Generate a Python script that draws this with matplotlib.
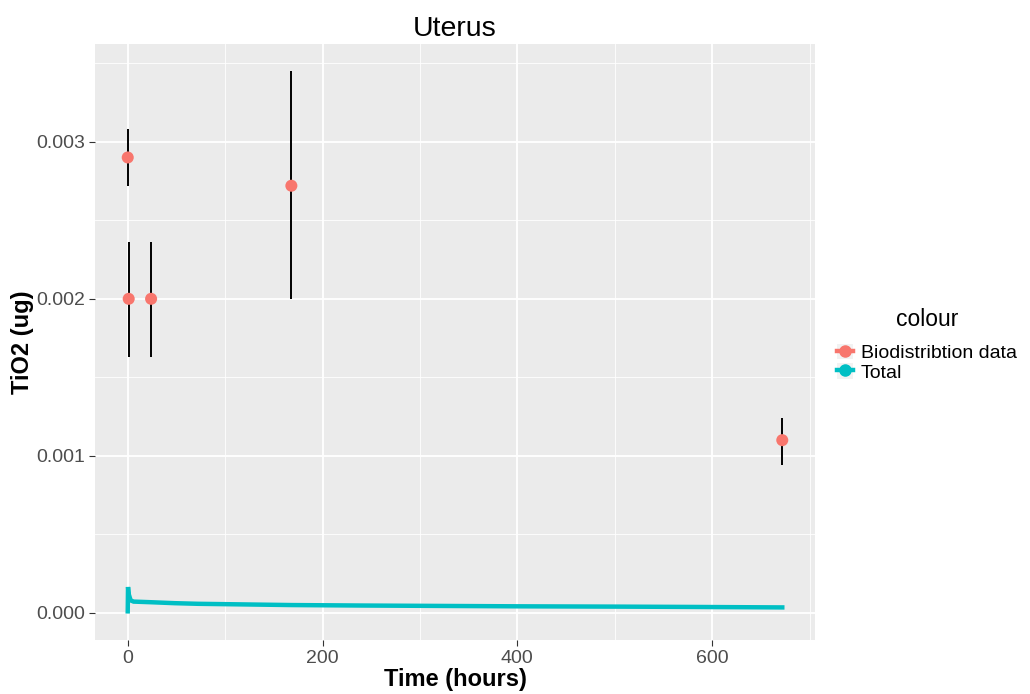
import numpy as np
import matplotlib.pyplot as plt
from matplotlib.lines import Line2D
from matplotlib.patches import Rectangle
from matplotlib.ticker import MultipleLocator

plt.rcParams['font.family'] = ['Liberation Sans', 'DejaVu Sans']

# measured biodistribution (mean with lower/upper bounds)
obs_time = [0, 1, 24, 168, 672]
obs_mean = [0.0029, 0.0020, 0.0020, 0.00272, 0.0011]
obs_lo = [0.00272, 0.00163, 0.00163, 0.0020, 0.00094]
obs_hi = [0.00308, 0.00236, 0.00236, 0.00345, 0.00124]

# model prediction, total amount in organ
sim_time = [0, 0.3, 1, 3, 6, 24, 48, 72, 120, 168, 240, 336, 400, 504, 580, 672]
sim_total = [0.00001, 0.000165, 0.00012, 0.00008, 0.000072, 0.000068, 0.000062,
             0.000058, 0.000054, 0.000050, 0.000047, 0.000044, 0.000042,
             0.000040, 0.000038, 0.000035]

red = "#F8766D"
teal = "#00BFC4"

fig = plt.figure(figsize=(10.3, 6.94), dpi=100)
ax = fig.add_axes([95 / 1030, 1 - 640 / 694, 720 / 1030, 596 / 694])
ax.set_facecolor("#EBEBEB")
for s in ax.spines.values():
    s.set_visible(False)

ax.plot(sim_time, sim_total, color=teal, lw=3.2, solid_joinstyle="miter", zorder=3)
ax.vlines(obs_time, obs_lo, obs_hi, color="black", lw=1.4, zorder=4)
ax.scatter(obs_time, obs_mean, s=75, color=red, edgecolors="none", zorder=5)

ax.set_xlim(-33.6, 705.6)
ax.set_ylim(-0.0001725, 0.0036225)
ax.xaxis.set_major_locator(MultipleLocator(200))
ax.yaxis.set_major_locator(MultipleLocator(0.001))
ax.xaxis.set_minor_locator(MultipleLocator(100))
ax.yaxis.set_minor_locator(MultipleLocator(0.0005))
ax.grid(which="major", color="white", lw=1.3, zorder=0)
ax.grid(which="minor", color="white", lw=0.6, zorder=0)
ax.set_axisbelow(True)
ax.yaxis.set_major_formatter(plt.FuncFormatter(lambda v, p: f"{v:.3f}"))
ax.tick_params(which="major", length=4, color="#333333", labelsize=14,
               labelcolor="#4D4D4D", pad=3)
ax.tick_params(which="minor", length=0)

ax.set_title("Uterus", fontsize=20.5, pad=6)
ax.set_xlabel("Time (hours)", fontsize=17, fontweight="bold", labelpad=1)
ax.set_ylabel("TiO2 (ug)", fontsize=17, fontweight="bold")
ax.yaxis.set_label_coords(-61 / 720, 0.5)

key_bg = dict(facecolor="#F2F2F2", edgecolor="none")
handles = [
    (Rectangle((0, 0), 1, 1, **key_bg),
     Line2D([], [], color=red, lw=3.2, marker="o", markersize=8)),
    (Rectangle((0, 0), 1, 1, **key_bg),
     Line2D([], [], color=teal, lw=3.2, marker="o", markersize=8)),
]
leg = fig.legend(handles, ["Biodistribtion data", "Total"], title="colour",
                 loc="center left", bbox_to_anchor=(823 / 1030, 1 - 345 / 694),
                 frameon=False, fontsize=14, title_fontsize=16.5,
                 handlelength=0.85, handleheight=0.85, handletextpad=0.4,
                 labelspacing=0.05, borderpad=0.2)
leg._legend_box.align = "center"
leg._legend_box.sep = 9

fig.savefig("out.png", dpi=100)
